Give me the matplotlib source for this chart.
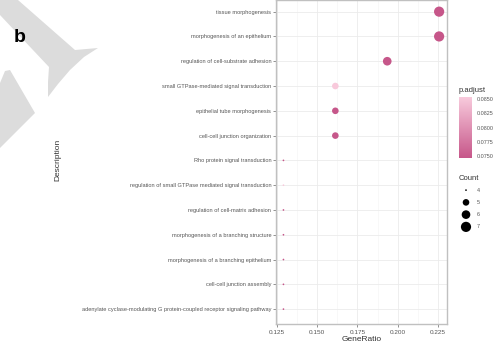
import matplotlib

matplotlib.use("Agg")
import matplotlib.pyplot as plt
import numpy as np
from matplotlib.colors import LinearSegmentedColormap, Normalize
from matplotlib.patches import Polygon

plt.rcParams["font.family"] = ["Liberation Sans", "DejaVu Sans"]

# GO enrichment results (top term first)
terms = [
    "tissue morphogenesis",
    "morphogenesis of an epithelium",
    "regulation of cell-substrate adhesion",
    "small GTPase-mediated signal transduction",
    "epithelial tube morphogenesis",
    "cell-cell junction organization",
    "Rho protein signal transduction",
    "regulation of small GTPase mediated signal transduction",
    "regulation of cell-matrix adhesion",
    "morphogenesis of a branching structure",
    "morphogenesis of a branching epithelium",
    "cell-cell junction assembly",
    "adenylate cyclase-modulating G protein-coupled receptor signaling pathway",
]
counts = [7, 7, 6, 5, 5, 5, 4, 4, 4, 4, 4, 4, 4]
gene_ratio = [c / 31 for c in counts]
p_adjust = [0.0746, 0.0746, 0.0747, 0.0853, 0.0747, 0.0747, 0.0746,
            0.0854, 0.0747, 0.0747, 0.0747, 0.0747, 0.0747]
x_ticks = [0.125, 0.150, 0.175, 0.200, 0.225]
cbar_ticks = [0.0750, 0.0775, 0.0800, 0.0825, 0.0850]
legend_counts = [4, 5, 6, 7]

W, H = 497, 351
fig = plt.figure(figsize=(W / 100, H / 100), dpi=100)


def fbox(x0, y0, x1, y1):
    """pixel box (top-left origin) -> figure-fraction rect"""
    return [x0 / W, 1 - y1 / H, (x1 - x0) / W, (y1 - y0) / H]


def marker_area(c):
    # ggplot-like area scale: diameter grows with sqrt of count above min
    d_px = 1.7 * (1 + 5 * np.sqrt((np.asarray(c) - 4) / 3))
    return (d_px * 72 / 100) ** 2


# faint grey watermark strokes in the top-left corner
wm = "#dcdcdc"
stroke1 = [(0, 0), (18, 0), (75, 50), (98, 48), (84, 57), (70, 70), (58, 84),
           (48, 97), (48, 82), (49, 67), (0, 15)]
stroke2 = [(0, 83), (5, 71), (10, 70), (35, 113), (0, 148)]
for pts in (stroke1, stroke2):
    fig.patches.append(Polygon([(x / W, 1 - y / H) for x, y in pts], closed=True,
                               transform=fig.transFigure, fc=wm, ec="none", zorder=0))

fig.text(14 / W, 1 - 38 / H, "b", fontsize=14, fontweight="bold", va="center", ha="left")

cmap = LinearSegmentedColormap.from_list("pinks", ["#c65689", "#f8cadc"])
norm = Normalize(vmin=min(p_adjust), vmax=max(p_adjust))

ax = fig.add_axes(fbox(276, 0, 447, 324))
n = len(terms)
ypos = np.arange(n)[::-1]
ax.scatter(gene_ratio, ypos, s=marker_area(counts), c=p_adjust, cmap=cmap, norm=norm,
           edgecolors="none", zorder=3)

ax.set_xlim(0.1244, 0.2307)
ax.set_ylim(-0.6, n - 1 + 0.47)
ax.set_xticks(x_ticks)
ax.set_xticklabels([f"{t:.3f}" for t in x_ticks])
ax.set_xticks([0.1375, 0.1625, 0.1875, 0.2125], minor=True)
ax.set_yticks(ypos)
ax.set_yticklabels(terms)
ax.grid(which="major", color="#ebebeb", lw=0.6, zorder=0)
ax.grid(which="minor", axis="x", color="#f4f4f4", lw=0.4, zorder=0)
ax.tick_params(which="major", length=2, width=0.5, color="#666666", labelcolor="#555555",
               labelsize=4.1, pad=1.5)
ax.tick_params(which="minor", length=0)
ax.tick_params(axis="x", labelsize=4.6, pad=2)
for side in ("left", "bottom", "right", "top"):
    ax.spines[side].set_color("#c0c0c0")
    ax.spines[side].set_linewidth(1.0)
ax.set_xlabel("GeneRatio", fontsize=6, color="#333333", labelpad=1)
fig.text(58 / W, 1 - 160 / H, "Description", rotation=90, fontsize=6, color="#333333",
         ha="center", va="center")

# colour bar for p.adjust
cax = fig.add_axes(fbox(459, 97, 472, 158))
cb = fig.colorbar(plt.cm.ScalarMappable(norm=norm, cmap=cmap), cax=cax)
cb.set_ticks(cbar_ticks)
cb.set_ticklabels([f"{t:.4f}" for t in cbar_ticks])
cb.outline.set_visible(False)
cax.tick_params(length=2, width=0.4, color="white", labelsize=3.9, labelcolor="#555555", pad=1.5)
fig.text(459 / W, 1 - 90 / H, "p.adjust", fontsize=5.5, color="#333333", ha="left", va="center")

# size legend for Count
fig.text(459 / W, 1 - 178 / H, "Count", fontsize=5.5, color="#333333", ha="left", va="center")
lax = fig.add_axes(fbox(455, 184, 495, 233))
lax.set_xlim(0, 40)
lax.set_ylim(4 + 0.5, 0.5)
ly = np.arange(1, len(legend_counts) + 1)
lax.scatter([11] * len(legend_counts), ly, s=marker_area(legend_counts), c="black",
            edgecolors="none")
for yy, c in zip(ly, legend_counts):
    lax.text(22, yy, str(c), fontsize=3.9, color="#555555", va="center", ha="left")
lax.axis("off")

fig.savefig("out.png", dpi=100)
